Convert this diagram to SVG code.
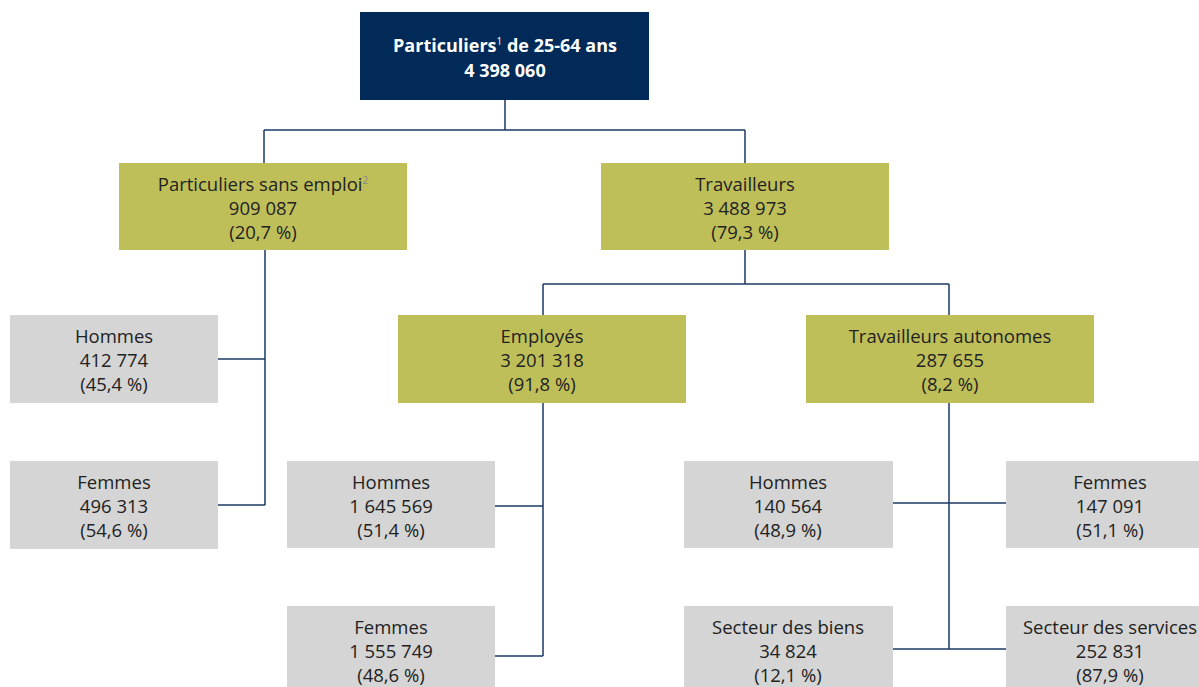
<svg xmlns="http://www.w3.org/2000/svg" width="1199" height="687" viewBox="0 0 1199 687">
<style>
.top{fill:#012a59}
.ol{fill:#bfbf5a}
.gr{fill:#d4d5d4}
text{font-family:"Open Sans","Noto Sans","DejaVu Sans",sans-serif;font-size:18.5px;fill:#222;text-anchor:middle}
.w{fill:#fff;font-weight:bold;font-size:18px}
.sup{font-size:10px;fill:#888}
.supw{font-size:10px;fill:#fff;font-weight:normal}
#conn path{fill:none;stroke:#1c3a66;stroke-width:1.5}
</style>
<rect width="1199" height="687" fill="#fff"/>
<g id="conn">
<path d="M505 100V130M264 130H745M264 130V163M745 130V163"/>
<path d="M265 250V505M218 359H265M218 505H265"/>
<path d="M745 250V284M543 284H949M543 284V315M949 284V315"/>
<path d="M543 403V656M495 506H543M495 656H543"/>
<path d="M949 403V649M893 503H1006M893 649H1006"/>
</g>
<g id="root"><rect class="top" x="360" y="12" width="289" height="88"/>
<text class="w" x="505" y="52">Particuliers<tspan class="supw" dy="-7">1</tspan><tspan dy="7"> de 25-64 ans</tspan></text>
<text class="w" x="505" y="77">4 398 060</text></g>
<g id="sansemploi"><rect class="ol" x="119" y="163" width="288" height="87"/>
<text x="263" y="191">Particuliers sans emploi<tspan class="sup" dy="-7">2</tspan></text>
<text x="263" y="215">909 087</text><text x="263" y="239">(20,7 %)</text></g>
<g id="travailleurs"><rect class="ol" x="601" y="163" width="288" height="87"/>
<text x="745" y="191">Travailleurs</text><text x="745" y="215">3 488 973</text><text x="745" y="239">(79,3 %)</text></g>
<g id="h1"><rect class="gr" x="10" y="315" width="208" height="88"/>
<text x="114" y="343">Hommes</text><text x="114" y="367">412 774</text><text x="114" y="391">(45,4 %)</text></g>
<g id="f1"><rect class="gr" x="10" y="461" width="208" height="88"/>
<text x="114" y="489">Femmes</text><text x="114" y="513">496 313</text><text x="114" y="537">(54,6 %)</text></g>
<g id="employes"><rect class="ol" x="398" y="315" width="288" height="88"/>
<text x="542" y="343">Employés</text><text x="542" y="367">3 201 318</text><text x="542" y="391">(91,8 %)</text></g>
<g id="autonomes"><rect class="ol" x="806" y="315" width="288" height="88"/>
<text x="950" y="343">Travailleurs autonomes</text><text x="950" y="367">287 655</text><text x="950" y="391">(8,2 %)</text></g>
<g id="h2"><rect class="gr" x="287" y="461" width="208" height="87"/>
<text x="391" y="489">Hommes</text><text x="391" y="513">1 645 569</text><text x="391" y="537">(51,4 %)</text></g>
<g id="f2"><rect class="gr" x="287" y="606" width="208" height="81"/>
<text x="391" y="634">Femmes</text><text x="391" y="658">1 555 749</text><text x="391" y="682">(48,6 %)</text></g>
<g id="h3"><rect class="gr" x="684" y="461" width="209" height="87"/>
<text x="788" y="489">Hommes</text><text x="788" y="513">140 564</text><text x="788" y="537">(48,9 %)</text></g>
<g id="f3"><rect class="gr" x="1006" y="461" width="193" height="87"/>
<text x="1110" y="489">Femmes</text><text x="1110" y="513">147 091</text><text x="1110" y="537">(51,1 %)</text></g>
<g id="biens"><rect class="gr" x="684" y="606" width="209" height="81"/>
<text x="788" y="634">Secteur des biens</text><text x="788" y="658">34 824</text><text x="788" y="682">(12,1 %)</text></g>
<g id="services"><rect class="gr" x="1006" y="606" width="193" height="81"/>
<text x="1110" y="634">Secteur des services</text><text x="1110" y="658">252 831</text><text x="1110" y="682">(87,9 %)</text></g>
</svg>
